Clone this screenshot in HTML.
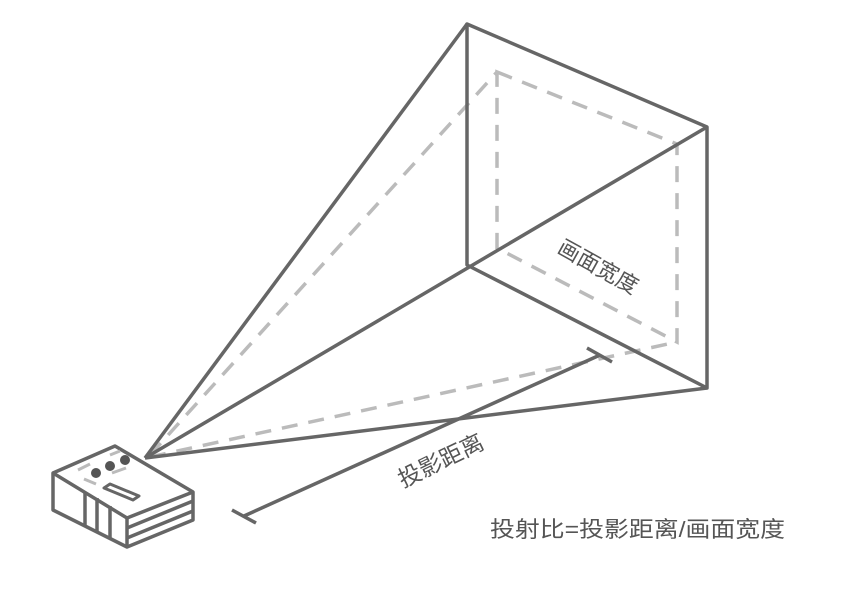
<!DOCTYPE html>
<html><head><meta charset="utf-8"><style>
html,body{margin:0;padding:0;background:#fff;}
svg{display:block;}
text{font-family:"Liberation Sans","Noto Sans CJK SC",sans-serif;fill:#555;}
</style></head><body>
<svg width="854" height="598" viewBox="0 0 854 598" xmlns="http://www.w3.org/2000/svg">
<g fill="none" stroke="#bbb" stroke-width="3.5" stroke-dasharray="16,11">
<polygon points="497,72 677,144 677,342 497,248"/>
<line x1="150" y1="455" x2="497" y2="72"/>
<line x1="150" y1="457" x2="677" y2="342"/>
</g>
<g fill="none" stroke="#666" stroke-width="3.5" stroke-linejoin="round">
<polygon points="467,24 707,127 707,388 467,265"/>
<line x1="145" y1="458" x2="467" y2="24"/>
<line x1="145" y1="458" x2="707" y2="127"/>
<line x1="145" y1="458" x2="707" y2="388"/>
<line x1="244" y1="516" x2="600" y2="355"/>
<line x1="587" y1="348" x2="612" y2="362"/>
<line x1="232" y1="510" x2="256" y2="523"/>
</g>
<g fill="#fff" stroke="#666" stroke-width="3.5" stroke-linejoin="round">
<polygon points="53,473 115,446 193,492 193,520 127,547 53,510"/>
<polyline points="53,473 127,518 193,492" fill="none"/>
<line x1="127" y1="518" x2="127" y2="547"/>
<line x1="85" y1="492" x2="85" y2="527"/>
<line x1="97" y1="498" x2="97" y2="533"/>
<line x1="110" y1="506" x2="110" y2="539"/>
<line x1="127" y1="528" x2="193" y2="501" fill="none"/>
<line x1="127" y1="538" x2="193" y2="511" fill="none"/>
<polygon points="104,488 110,484 139,496 133,500" stroke-width="3"/>
</g>
<g fill="#555"><circle cx="96" cy="473" r="5"/><circle cx="110" cy="466" r="5"/><circle cx="125" cy="460" r="5"/></g>
<g stroke="#bbb" stroke-width="3"><line x1="78" y1="470" x2="90" y2="464"/><line x1="84" y1="479" x2="96" y2="484"/><line x1="112" y1="473" x2="126" y2="468"/><line x1="110" y1="455" x2="120" y2="451"/></g>
<text x="0" y="0" font-size="22" transform="translate(556,252) rotate(29)">画面宽度</text>
<text x="0" y="0" font-size="23" transform="translate(403,488) rotate(-26)">投影距离</text>
<text x="490" y="537" font-size="22" textLength="295" lengthAdjust="spacingAndGlyphs">投射比=投影距离/画面宽度</text>
</svg>
</body></html>
